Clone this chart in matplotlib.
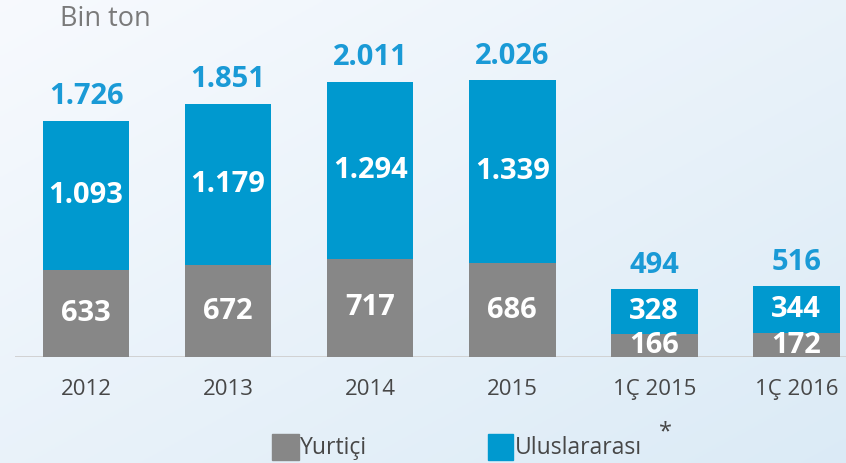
import numpy as np
import matplotlib.pyplot as plt
from matplotlib.patches import Rectangle

# data
categories = ['2012', '2013', '2014', '2015', '1Ç 2015', '1Ç 2016']
yurtici = [633, 672, 717, 686, 166, 172]
uluslararasi = [1093, 1179, 1294, 1339, 328, 344]
totals = ['1.726', '1.851', '2.011', '2.026', '494', '516']
yurtici_lbl = ['633', '672', '717', '686', '166', '172']
ulus_lbl = ['1.093', '1.179', '1.294', '1.339', '328', '344']

grey = '#878787'
blue = '#0099cf'
lbl_blue = '#1a9ad6'
txt_grey = '#474747'

plt.rcParams['font.family'] = ['Open Sans', 'DejaVu Sans']

fig = plt.figure(figsize=(8.46, 4.63), dpi=100)

# soft blue gradient background
bg = fig.add_axes([0, 0, 1, 1], zorder=-10)
xx, yy = np.meshgrid(np.linspace(0, 1, 200), np.linspace(0, 1, 200))
g = 0.5 * xx + 0.5 * yy
c0 = np.array([0.97, 0.98, 0.995])
c1 = np.array([0.86, 0.92, 0.965])
img = c0[None, None, :] * (1 - g[..., None]) + c1[None, None, :] * g[..., None]
bg.imshow(img, aspect='auto', extent=[0, 1, 0, 1])
bg.axis('off')

ax = fig.add_axes([15 / 846, (463 - 357) / 463, 831 / 846, 357 / 463])
ax.patch.set_alpha(0)
x = np.arange(len(categories))
w = 0.61
ax.bar(x, yurtici, w, color=grey, zorder=2)
ax.bar(x, uluslararasi, w, bottom=yurtici, color=blue, zorder=2)
ax.axhline(0, color='#cfcfcf', lw=2, zorder=1)

ax.set_xlim(-0.5, 5.35)
ax.set_ylim(0, 2611)
ax.axis('off')

for i in range(len(categories)):
    yt = yurtici[i]
    ul = uluslararasi[i]
    ax.text(x[i], yt / 2, yurtici_lbl[i], ha='center', va='center',
            color='white', fontsize=21, fontweight='bold', zorder=3)
    ax.text(x[i], yt + ul / 2, ulus_lbl[i], ha='center', va='center',
            color='white', fontsize=21, fontweight='bold', zorder=3)
    ax.text(x[i], yt + ul + 70, totals[i], ha='center', va='bottom',
            color=lbl_blue, fontsize=21, fontweight='bold', zorder=3)
    ax.text(x[i], -160, categories[i], ha='center', va='top',
            color=txt_grey, fontsize=16)

fig.text(60 / 846, 1 - 19 / 463, 'Bin ton', ha='left', va='center',
         color='#7a7a7a', fontsize=19.5)

# legend
fig.patches.append(Rectangle((272 / 846, 3 / 463), 27 / 846, 26 / 463,
                             transform=fig.transFigure, color=grey))
fig.text(300 / 846, 15 / 463, 'Yurtiçi', ha='left', va='center',
         color=txt_grey, fontsize=16.5)
fig.patches.append(Rectangle((488 / 846, 3 / 463), 25 / 846, 26 / 463,
                             transform=fig.transFigure, color=blue))
fig.text(515 / 846, 15 / 463, 'Uluslararası', ha='left', va='center',
         color=txt_grey, fontsize=16.5)
fig.text(665 / 846, 31 / 463, '*', ha='center', va='center',
         color=txt_grey, fontsize=17)

fig.savefig('out.png', dpi=100)
